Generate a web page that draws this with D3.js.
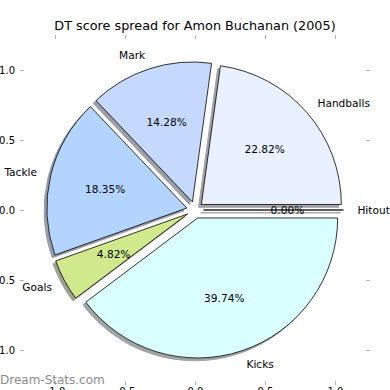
<!DOCTYPE html>
<html>
<head>
<meta charset="utf-8">
<script src="https://cdn.jsdelivr.net/npm/d3@7"></script>
<style>
  body { margin: 0; background: #fff; }
  svg text { font-family: "DejaVu Sans", sans-serif; }
</style>
</head>
<body>
<svg width="390" height="390"></svg>
<script>
// score categories and their share of the DT total (%)
const categories = ["Handballs", "Mark", "Tackle", "Goals", "Kicks", "Hitout"];
const shares = [22.82, 14.28, 18.35, 4.82, 39.74, 0.00];
const colors = ["#e9f0ff", "#c5d9ff", "#b3d4ff", "#cfe98c", "#d9ffff", "#ffffff"];
const tickValues = [-1.0, -0.5, 0.0, 0.5, 1.0];

const svg = d3.select("svg");

// axes box goes -1.25..1.25 both ways
let x = d3.scaleLinear().domain([-1.25, 1.25]).range([20, 370]);
let y = d3.scaleLinear().domain([-1.25, 1.25]).range([385, 35]);
const R = x(1) - x(0);
const cx = x(0), cy = y(0);
const explode = 0.06;
const fs = 10.6;

// axis ticks (inward, no spines)
const tickColor = "#b3b3b3";
let fmt = d => d.toFixed(1);
let axes = [
  svg.append("g").attr("transform", "translate(20,0)").call(d3.axisLeft(y).tickValues(tickValues).tickSizeInner(-4).tickSizeOuter(0).tickPadding(5).tickFormat(fmt)),
  svg.append("g").attr("transform", "translate(370,0)").call(d3.axisRight(y).tickValues(tickValues).tickSizeInner(-4).tickSizeOuter(0).tickFormat("")),
  svg.append("g").attr("transform", "translate(0,35)").call(d3.axisTop(x).tickValues(tickValues).tickSizeInner(-4).tickSizeOuter(0).tickFormat("")),
  svg.append("g").attr("transform", "translate(0,385)").call(d3.axisBottom(x).tickValues(tickValues).tickSizeInner(-4).tickSizeOuter(0).tickPadding(3).tickFormat(fmt))
];
axes.forEach(g => {
  g.select(".domain").remove();
  g.selectAll(".tick line").attr("stroke", tickColor);
  g.selectAll("text").attr("font-size", 10).attr("fill", "#000").style("font-family", "DejaVu Sans");
});

// pie, starting at 3 o'clock and going counter-clockwise like matplotlib
let pie = d3.pie().sort(null).startAngle(Math.PI / 2).endAngle(Math.PI / 2 - 2 * Math.PI);
let arcs = pie(shares);
let arcGen = d3.arc().innerRadius(0).outerRadius(R);

function dir(a) { return [Math.sin(a), -Math.cos(a)]; }

let wedges = arcs.map((d, i) => {
  let mid = (d.startAngle + d.endAngle) / 2;
  let [ux, uy] = dir(mid);
  return { d, i, mid, ux, uy, ox: cx + ux * explode * R, oy: cy + uy * explode * R };
});

// shadows first
wedges.forEach(w => {
  let c = d3.rgb(colors[w.i]);
  let sc = d3.rgb(c.r * 0.3, c.g * 0.3, c.b * 0.3);
  svg.append("path")
    .attr("d", arcGen(w.d))
    .attr("transform", `translate(${w.ox - 2.8},${w.oy + 2.8})`)
    .attr("fill", sc)
    .attr("stroke", sc)
    .attr("stroke-width", 1)
    .attr("opacity", 0.5);
});

wedges.forEach(w => {
  svg.append("path")
    .attr("d", arcGen(w.d))
    .attr("transform", `translate(${w.ox},${w.oy})`)
    .attr("fill", colors[w.i])
    .attr("stroke", "#000")
    .attr("stroke-width", 0.8)
    .attr("stroke-linejoin", "round");
});

// labels and percentages
wedges.forEach(w => {
  let lx = w.ox + w.ux * 1.1 * R, ly = w.oy + w.uy * 1.1 * R;
  svg.append("text")
    .attr("x", lx).attr("y", ly)
    .attr("dominant-baseline", "central")
    .attr("text-anchor", lx - cx > 0 ? "start" : "end")
    .attr("font-size", fs)
    .text(categories[w.i]);
  let px = w.ox + w.ux * 0.6 * R, py = w.oy + w.uy * 0.6 * R;
  svg.append("text")
    .attr("x", px).attr("y", py)
    .attr("dominant-baseline", "central")
    .attr("text-anchor", "middle")
    .attr("font-size", fs)
    .text(shares[w.i].toFixed(2) + "%");
});

svg.append("text")
  .attr("x", 195).attr("y", 25)
  .attr("text-anchor", "middle")
  .attr("dominant-baseline", "central")
  .attr("font-size", 12.8)
  .text("DT score spread for Amon Buchanan (2005)");

svg.append("text")
  .attr("x", 0).attr("y", 380)
  .attr("dominant-baseline", "central")
  .attr("font-size", 12)
  .attr("fill", "#8c8c8c")
  .text("Dream-Stats.com");
</script>
</body>
</html>
